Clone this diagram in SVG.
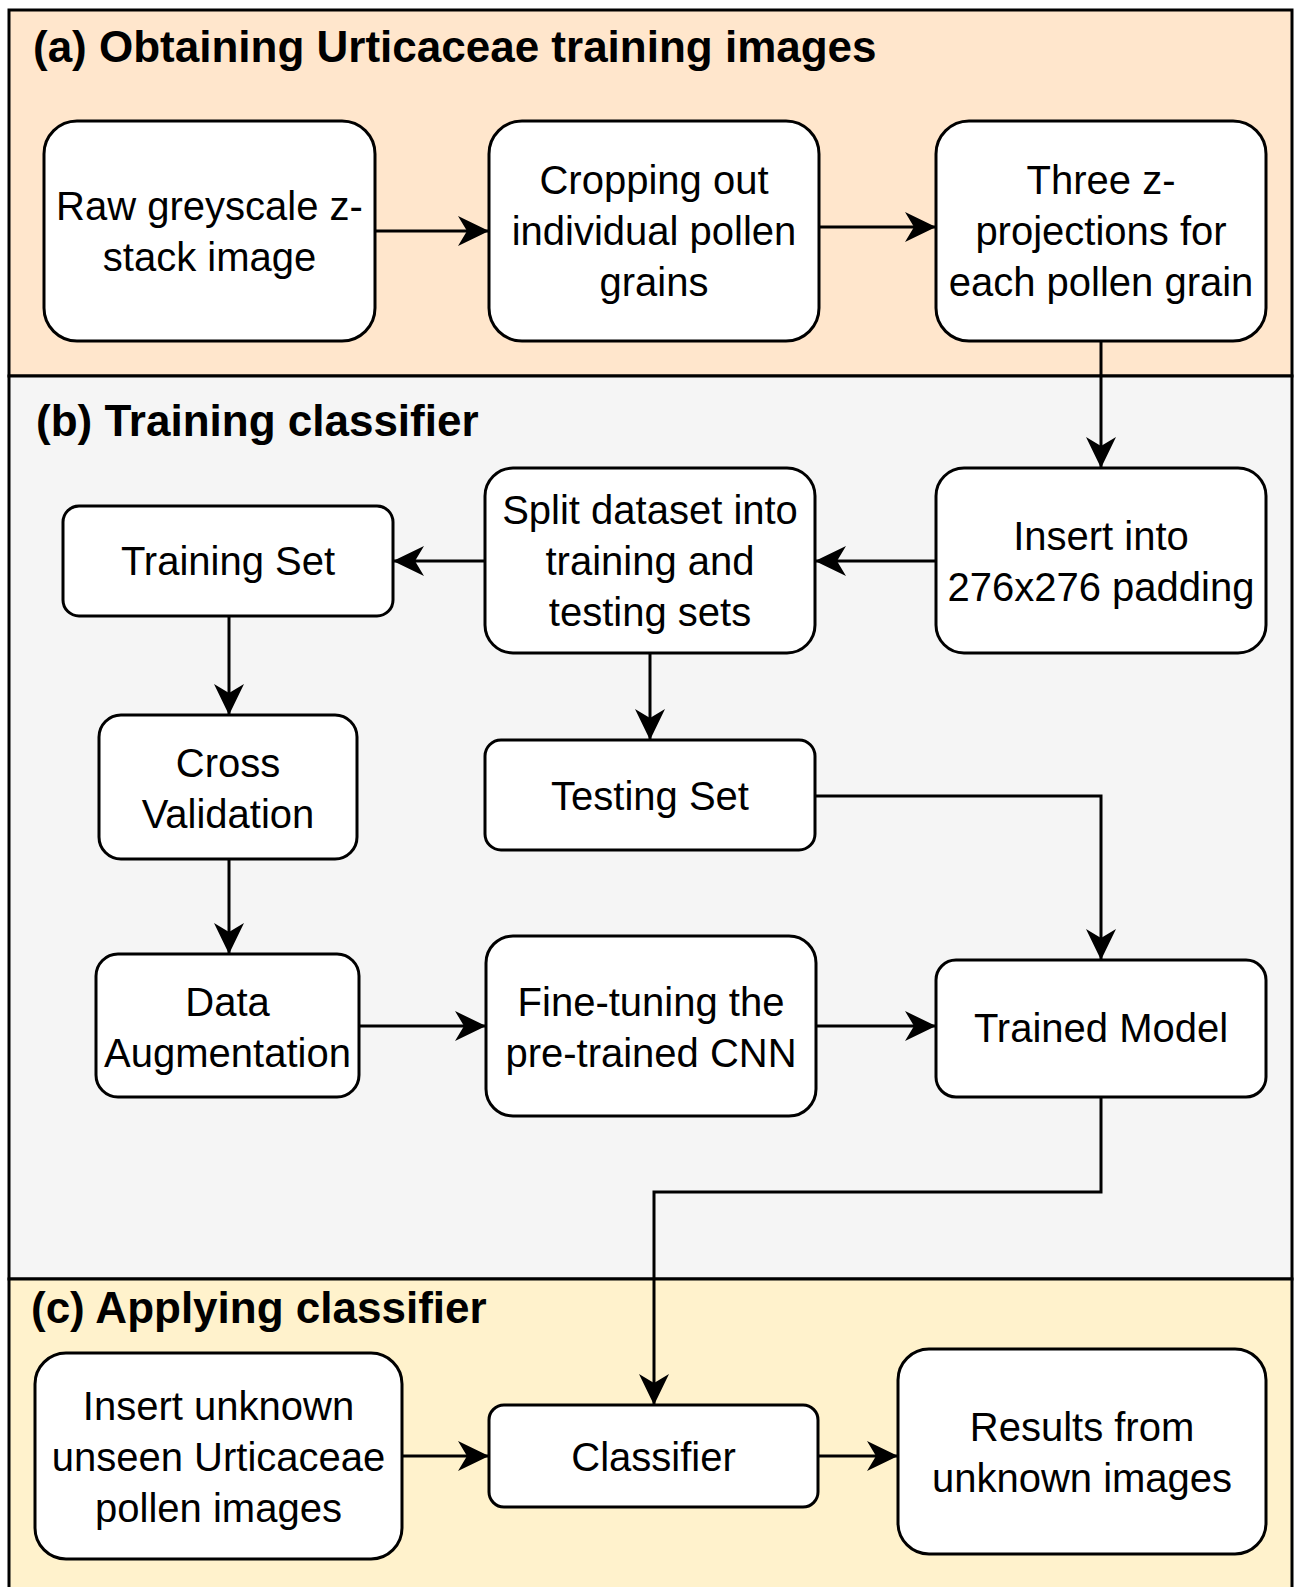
<svg xmlns="http://www.w3.org/2000/svg" width="1296" height="1587" viewBox="0 0 1296 1587">
<style>
.sec{stroke:#000;stroke-width:3}
.node{fill:#fff;stroke:#000;stroke-width:3}
.t{font-family:"Liberation Sans",Arial,sans-serif;font-size:40px;fill:#000;text-anchor:middle}
.h{font-family:"Liberation Sans",Arial,sans-serif;font-size:44px;font-weight:bold;fill:#000}
.c{fill:none;stroke:#000;stroke-width:3}
</style>
<defs>
<marker id="arr" viewBox="0 0 32 32" refX="31" refY="16" markerWidth="32" markerHeight="32" markerUnits="userSpaceOnUse" orient="auto">
<path d="M31,16 L0,1 L9,16 L0,31 Z" fill="#000"/>
</marker>
</defs>
<rect width="1296" height="1587" fill="#fff"/>
<g id="sections">
<rect class="sec" x="9" y="10" width="1283" height="366" fill="#FFE6CC"/>
<rect class="sec" x="9" y="376" width="1283" height="903" fill="#F5F5F5"/>
<rect class="sec" x="9" y="1279" width="1283" height="330" fill="#FFF2CC"/>
<text class="h" x="33" y="62">(a) Obtaining Urticaceae training images</text>
<text class="h" x="36" y="436">(b) Training classifier</text>
<text class="h" x="31" y="1323">(c) Applying classifier</text>
</g>
<g id="connectors">
<path class="c" d="M375,231 H489" marker-end="url(#arr)"/>
<path class="c" d="M819,227 H936" marker-end="url(#arr)"/>
<path class="c" d="M1101,341 V468" marker-end="url(#arr)"/>
<path class="c" d="M936,561 H815" marker-end="url(#arr)"/>
<path class="c" d="M485,561 H393" marker-end="url(#arr)"/>
<path class="c" d="M650,653 V740" marker-end="url(#arr)"/>
<path class="c" d="M229,616 V715" marker-end="url(#arr)"/>
<path class="c" d="M229,859 V954" marker-end="url(#arr)"/>
<path class="c" d="M815,796 H1101 V960" marker-end="url(#arr)"/>
<path class="c" d="M359,1026 H486" marker-end="url(#arr)"/>
<path class="c" d="M816,1026 H936" marker-end="url(#arr)"/>
<path class="c" d="M1101,1097 V1192 H654 V1405" marker-end="url(#arr)"/>
<path class="c" d="M402,1456 H489" marker-end="url(#arr)"/>
<path class="c" d="M818,1456 H898" marker-end="url(#arr)"/>
</g>
<g id="raw">
<rect class="node" x="44" y="121" width="331" height="220" rx="33"/>
<text class="t" x="209.5" y="220">Raw greyscale z-</text>
<text class="t" x="209.5" y="271">stack image</text>
</g>
<g id="crop">
<rect class="node" x="489" y="121" width="330" height="220" rx="33"/>
<text class="t" x="654" y="194">Cropping out</text>
<text class="t" x="654" y="245">individual pollen</text>
<text class="t" x="654" y="296">grains</text>
</g>
<g id="three">
<rect class="node" x="936" y="121" width="330" height="220" rx="33"/>
<text class="t" x="1101" y="194">Three z-</text>
<text class="t" x="1101" y="245">projections for</text>
<text class="t" x="1101" y="296">each pollen grain</text>
</g>
<g id="insert">
<rect class="node" x="936" y="468" width="330" height="185" rx="28"/>
<text class="t" x="1101" y="550">Insert into</text>
<text class="t" x="1101" y="601">276x276 padding</text>
</g>
<g id="split">
<rect class="node" x="485" y="468" width="330" height="185" rx="28"/>
<text class="t" x="650" y="524">Split dataset into</text>
<text class="t" x="650" y="575">training and</text>
<text class="t" x="650" y="626">testing sets</text>
</g>
<g id="training">
<rect class="node" x="63" y="506" width="330" height="110" rx="16"/>
<text class="t" x="228" y="575">Training Set</text>
</g>
<g id="testing">
<rect class="node" x="485" y="740" width="330" height="110" rx="16"/>
<text class="t" x="650" y="810">Testing Set</text>
</g>
<g id="cross">
<rect class="node" x="99" y="715" width="258" height="144" rx="22"/>
<text class="t" x="228" y="777">Cross</text>
<text class="t" x="228" y="828">Validation</text>
</g>
<g id="augment">
<rect class="node" x="96" y="954" width="263" height="143" rx="22"/>
<text class="t" x="227.5" y="1015.5">Data</text>
<text class="t" x="227.5" y="1066.5">Augmentation</text>
</g>
<g id="finetune">
<rect class="node" x="486" y="936" width="330" height="180" rx="27"/>
<text class="t" x="651" y="1015.5">Fine-tuning the</text>
<text class="t" x="651" y="1066.5">pre-trained CNN</text>
</g>
<g id="trained">
<rect class="node" x="936" y="960" width="330" height="137" rx="20"/>
<text class="t" x="1101" y="1042">Trained Model</text>
</g>
<g id="unknown">
<rect class="node" x="35" y="1353" width="367" height="206" rx="31"/>
<text class="t" x="218.5" y="1420">Insert unknown</text>
<text class="t" x="218.5" y="1471">unseen Urticaceae</text>
<text class="t" x="218.5" y="1522">pollen images</text>
</g>
<g id="classifier">
<rect class="node" x="489" y="1405" width="329" height="102" rx="15"/>
<text class="t" x="653.5" y="1471">Classifier</text>
</g>
<g id="results">
<rect class="node" x="898" y="1349" width="368" height="205" rx="31"/>
<text class="t" x="1082" y="1441">Results from</text>
<text class="t" x="1082" y="1492">unknown images</text>
</g>
</svg>
